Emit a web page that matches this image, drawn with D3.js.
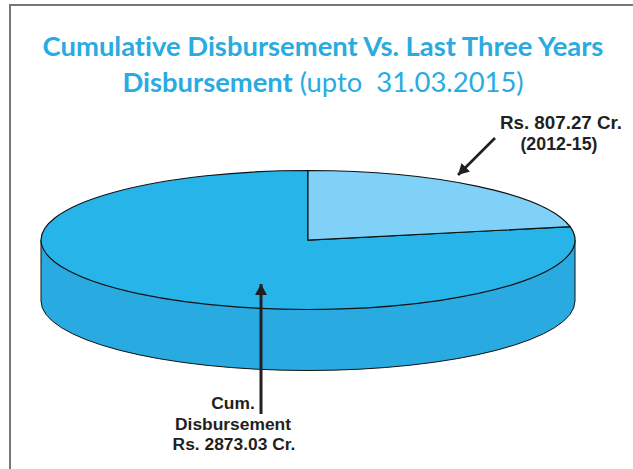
<!DOCTYPE html>
<html lang="en">
<head>
  <meta charset="UTF-8" />
  <title>Cumulative Disbursement</title>
  <script src="https://d3js.org/d3.v7.min.js"></script>
  <style>
    html, body { margin: 0; padding: 0; background: #fff; }
    svg { display: block; }
    .title { font-family: Lato, "Open Sans", sans-serif; font-size: 27.4px; fill: #29abe2; text-anchor: middle; font-variant-ligatures: none; }
    .label { font-family: "Liberation Sans", Arial, sans-serif; font-weight: bold; fill: #231f20; text-anchor: middle; }
  </style>
</head>
<body>
  <svg width="633" height="469"></svg>

  <script>
    const categories = ['Cum. Disbursement', '2012-15'];
    const values = [2873.03, 807.27];
    const colors = ['#27b4e9', '#7fd1f7'];
    const labelLines = ['Rs. 807.27 Cr.', '(2012-15)', 'Cum.', 'Disbursement', 'Rs. 2873.03 Cr.'];

    const width = 633;
    const height = 469;
    const cx = 308;
    const cy = 240;
    const rx = 267;
    const ry = 69.5;
    const depth = 61;

    const svg = d3.select('svg');

    // frame, runs off the right and bottom of the picture
    svg.append('path')
      .attr('d', `M10,${height}V5H${width}`)
      .attr('fill', 'none')
      .attr('stroke', '#777')
      .attr('stroke-width', 2);

    // title
    const title = svg.append('g').attr('class', 'title');
    title.append('text').attr('x', 323).attr('y', 56)
      .attr('font-weight', 'bold')
      .text('Cumulative Disbursement Vs. Last Three Years');
    const title2 = title.append('text').attr('x', 323).attr('y', 92)
      .style('white-space', 'pre');
    title2.append('tspan').attr('font-weight', 'bold').text('Disbursement');
    title2.append('tspan').text(' (upto  31.03.2015)');

    // side wall of the disc
    svg.append('path')
      .attr('d', `M${cx - rx},${cy}V${cy + depth}A${rx},${ry} 0 0 0 ${cx + rx},${cy + depth}V${cy}Z`)
      .attr('fill', '#29abe2')
      .attr('stroke', '#111')
      .attr('stroke-width', 1);

    // top face: an ordinary pie squashed into an ellipse
    const data = categories.map((c, i) => ({ name: c, value: values[i], color: colors[i] }));

    const pie = d3.pie()
      .value(d => d.value)
      .sort(null)
      .startAngle(Math.PI * 2)
      .endAngle(0);

    const arc = d3.arc()
      .innerRadius(0)
      .outerRadius(rx);

    const face = svg.append('g')
      .attr('transform', `translate(${cx},${cy}) scale(1,${ry / rx})`);

    face.selectAll('path')
      .data(pie(data))
      .enter()
      .append('path')
      .attr('d', arc)
      .attr('fill', d => d.data.color)
      .attr('stroke', '#111')
      .attr('stroke-width', 1.2)
      .attr('vector-effect', 'non-scaling-stroke');

    // arrows
    const defs = svg.append('defs');
    defs.append('marker')
      .attr('id', 'head')
      .attr('markerUnits', 'userSpaceOnUse')
      .attr('markerWidth', 14)
      .attr('markerHeight', 14)
      .attr('refX', 11)
      .attr('refY', 6)
      .attr('orient', 'auto')
      .append('path')
      .attr('d', 'M0,0L11,6L0,12Z')
      .attr('fill', '#231f20');

    svg.append('line')
      .attr('x1', 495).attr('y1', 138).attr('x2', 458).attr('y2', 175)
      .attr('stroke', '#231f20').attr('stroke-width', 2.6)
      .attr('marker-end', 'url(#head)');

    svg.append('line')
      .attr('x1', 261).attr('y1', 414).attr('x2', 261).attr('y2', 284)
      .attr('stroke', '#231f20').attr('stroke-width', 3)
      .attr('marker-end', 'url(#head)');

    // labels
    const labelX = [561, 559, 233, 233, 234];
    const labelY = [129, 150, 409, 430, 450];
    const labelSize = [18.8, 17.8, 17.4, 17.4, 17.4];
    svg.selectAll('.label')
      .data(labelLines)
      .enter()
      .append('text')
      .attr('class', 'label')
      .attr('x', (d, i) => labelX[i])
      .attr('y', (d, i) => labelY[i])
      .attr('font-size', (d, i) => labelSize[i])
      .text(d => d);
  </script>
</body>
</html>
